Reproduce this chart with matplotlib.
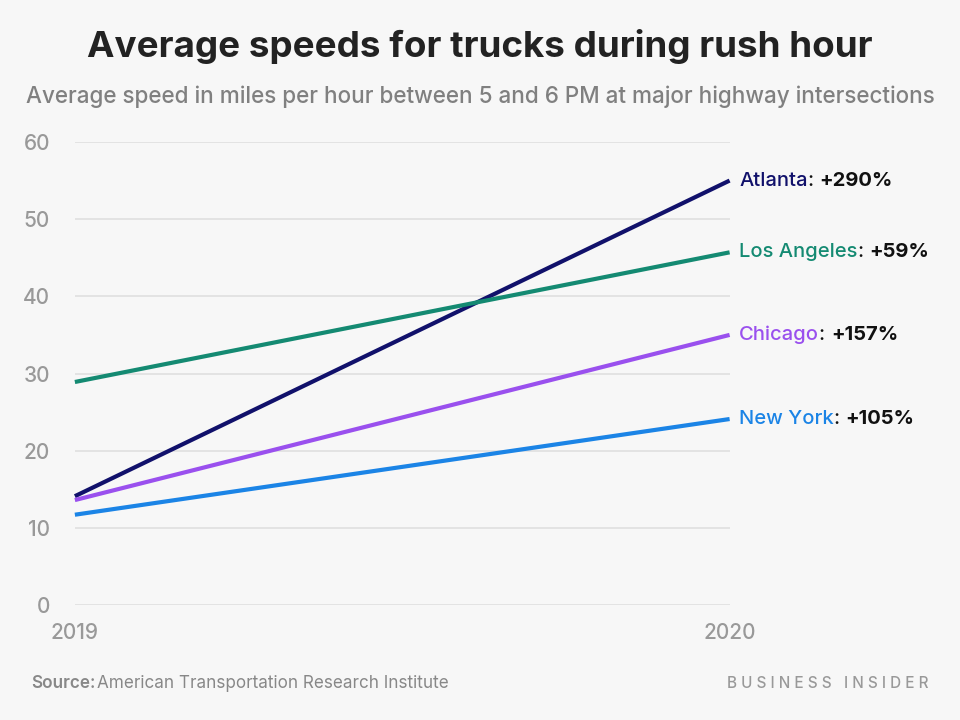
import matplotlib.pyplot as plt

years = [2019, 2020]
cities = ['Atlanta', 'Los Angeles', 'Chicago', 'New York']
speeds_2019 = [14.1, 28.9, 13.6, 11.7]
speeds_2020 = [55.0, 45.7, 35.0, 24.1]
changes = ['+290%', '+59%', '+157%', '+105%']
colors = ['#11116b', '#148a72', '#9a50ee', '#1b84e6']

bg = '#f7f7f7'
plt.rcParams['font.family'] = ['Inter', 'DejaVu Sans']

fig = plt.figure(figsize=(9.6, 7.2), dpi=100, facecolor=bg)
ax = fig.add_axes([0.078, 0.1597, 0.682, 0.6431], facecolor=bg)

for city, a, b, c, ch in zip(cities, speeds_2019, speeds_2020, colors, changes):
    ax.plot(years, [a, b], color=c, lw=3, solid_capstyle='butt', clip_on=False, zorder=3)
    t1 = ax.annotate(city, xy=(years[1], b), xytext=(7, 0), textcoords='offset points',
                     color=c, fontsize=14.5, fontweight='medium', va='center', ha='left')
    t2 = ax.annotate(': ', xy=(1, 0.5), xycoords=t1, xytext=(0, 0), textcoords='offset points',
                     color='#111111', fontsize=14.5, fontweight='medium', va='center', ha='left')
    ax.annotate(ch, xy=(1, 0.5), xycoords=t2, color='#111111', fontsize=14.5,
                fontweight='bold', va='center', ha='left')

ax.set_xlim(2019, 2020)
ax.set_ylim(0, 60)
ax.set_yticks(range(0, 61, 10))
ax.set_xticks(years)
ax.set_xticklabels(['2019', '2020'])
ax.grid(axis='y', color='#e0e0e0', lw=1.2)
ax.set_axisbelow(True)
for s in ax.spines.values():
    s.set_visible(False)
ax.tick_params(axis='both', length=0, colors='#999999', labelsize=15)
for lbl in ax.get_xticklabels() + ax.get_yticklabels():
    lbl.set_fontweight('medium')
ax.tick_params(axis='y', pad=18)
ax.tick_params(axis='x', pad=13)

fig.text(0.5, 0.935, 'Average speeds for trucks during rush hour', ha='center', va='center',
         fontsize=26.5, fontweight='bold', color='#222222')
fig.text(0.5, 0.865, 'Average speed in miles per hour between 5 and 6 PM at major highway intersections',
         ha='center', va='center', fontsize=16.2, fontweight='medium', color='#808080')
fig.text(0.032, 0.051, 'Source:', ha='left', va='center', fontsize=12.3, color='#888888',
         fontweight='semibold')
fig.text(0.101, 0.051, 'American Transportation Research Institute', ha='left', va='center',
         fontsize=12.3, color='#888888')
fig.text(0.967, 0.051, 'B U S I N E S S   I N S I D E R', ha='right', va='center',
         fontsize=11, fontweight='medium', color='#999999')

fig.savefig('out.png', dpi=100, facecolor=bg)
